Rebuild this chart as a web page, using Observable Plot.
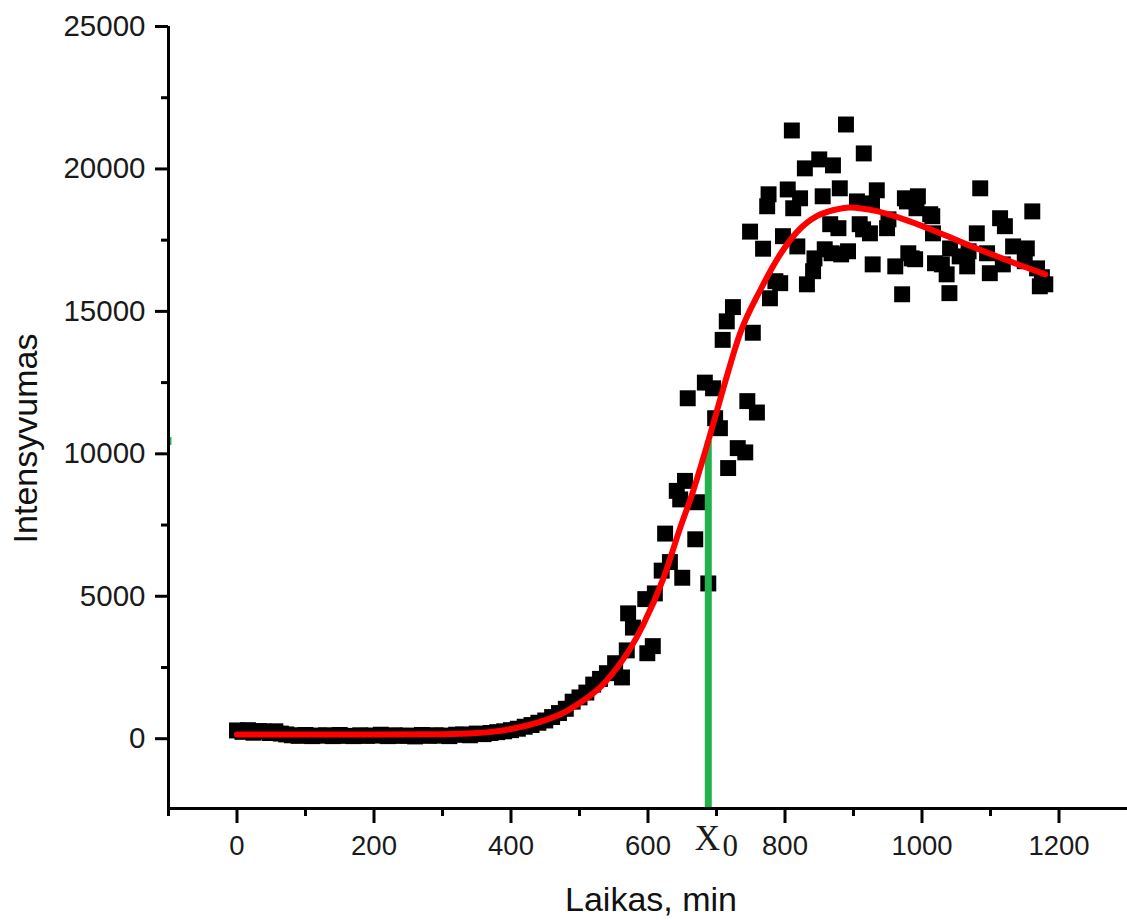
<!DOCTYPE html>
<html>
<head>
<meta charset="utf-8">
<script src="https://cdn.jsdelivr.net/npm/d3@7"></script>
<script src="https://cdn.jsdelivr.net/npm/@observablehq/plot@0.6"></script>
<style>
  body { margin: 0; background: #fff; }
  #chart { width: 1127px; height: 920px; }
</style>
</head>
<body>
<div id="chart"></div>
<script>
// Measured points: time (min) and intensity
const timeMin = [0,8,16,24,32,40,48,56,64,72,80,90,100,110,120,130,140,150,160,170,180,190,200,210,220,230,240,250,260,270,280,290,300,310,320,330,340,350,360,370,380,390,400,410,420,430,440,450,460,470,480,490,500,510,520,530,540,552,562,569,571,578,596,599,607,610,620,625,632,642,647,650,654,658,669,672,683,688,695,698,705,709,715,717,724,731,742,745,749,753,759,768,774,776,778,786,793,797,804,810,812,818,822,829,832,841,843,850,855,858,866,868,870,878,880,882,889,892,905,909,914,915,924,927,928,934,949,951,961,971,975,978,980,985,990,992,994,1012,1015,1016,1019,1029,1036,1040,1041,1055,1066,1068,1080,1085,1095,1099,1114,1118,1121,1133,1150,1153,1161,1168,1172,1175,1180];
const intensity = [290,240,300,210,270,250,200,260,180,150,120,100,130,90,110,120,90,130,100,90,120,100,110,140,90,120,100,110,80,130,100,120,110,90,140,150,120,180,160,200,230,260,300,350,420,480,560,640,760,900,1050,1300,1450,1620,1900,2100,2300,2650,2150,3100,4400,3900,4900,3000,3250,5100,5900,7200,6200,8700,8400,5650,9050,11950,7000,8300,12500,5450,12300,11250,10900,14000,14650,9500,15150,10200,10050,11850,17800,14250,11450,17200,18690,19110,15460,16060,15990,17640,19280,21350,18620,17280,18970,20020,15950,16410,16860,20335,19040,17180,18060,17040,20125,17920,19320,17000,21560,17110,18860,18060,17880,20545,17740,18790,16650,19250,17920,18230,16580,15600,18970,18860,17040,16860,16830,18620,19040,18410,18340,17740,16690,16650,16300,15640,17210,16930,16580,17110,17740,19320,17040,16340,18270,16650,17990,17280,16760,17210,18510,16510,15880,16200,15950];

// Fitted curve
const fitTime  = [0,100,200,300,350,400,450,480,500,530,555,575,593,622,647,666,688,710,734,764,793,818,847,870,895,934,982,1031,1080,1128,1180];
const fitValue = [150,150,150,160,200,340,650,950,1250,1800,2500,3200,4000,5600,7400,8700,10450,12300,14200,15750,17000,17800,18350,18550,18650,18520,18160,17700,17210,16760,16300];

// x0 marker
const x0Time = 688;
const x0Value = 10450;

// Axes
const xDomain = [-100, 1300];
const yDomain = [-2450, 25000];
const xTicks = [0, 200, 400, 600, 800, 1000, 1200];
const xMinorTicks = [-100, 100, 300, 500, 700, 900, 1100];
const yTicks = [0, 5000, 10000, 15000, 20000, 25000];
const yMinorTicks = [2500, 7500, 12500, 17500, 22500];
const xTitle = "Laikas, min";
const yTitle = "Intensyvumas";

const points = timeMin.map((t, i) => ({t, v: intensity[i]}));
const fit = fitTime.map((t, i) => ({t, v: fitValue[i]}));
const marker = [{t: x0Time, v: x0Value}];

const font = "Liberation Sans, Arial, sans-serif";
const serif = "Liberation Serif, Times New Roman, serif";
const green = "#22b14c";

const chart = Plot.plot({
  width: 1127,
  height: 920,
  marginLeft: 168,
  marginRight: 0,
  marginTop: 26,
  marginBottom: 112,
  style: {fontFamily: font, background: "#fff", overflow: "visible"},
  x: {domain: xDomain, label: null},
  y: {domain: yDomain, label: null},
  marks: [
    Plot.dot(points, {x: "t", y: "v", symbol: "square", r: 9, fill: "black", stroke: "none"}),
    Plot.ruleX(marker, {x: "t", y1: yDomain[0], y2: "v", stroke: green, strokeWidth: 7}),
    Plot.ruleY(marker, {y: "v", x1: xDomain[0], x2: -95, stroke: green, strokeWidth: 8}),
    Plot.line(fit, {x: "t", y: "v", stroke: "#ff0000", strokeWidth: 6, curve: "monotone-x"}),
    Plot.ruleX([xDomain[0]], {stroke: "black", strokeWidth: 3}),
    Plot.ruleY([yDomain[0]], {stroke: "black", strokeWidth: 3}),
    Plot.axisY(yTicks, {tickSize: 13, tickPadding: 10, fontSize: 29.5, tickFormat: d => String(d), strokeWidth: 3, stroke: "black", fill: "#1a1a1a", label: null}),
    Plot.axisY(yMinorTicks, {tickSize: 7, tickFormat: () => "", strokeWidth: 3, stroke: "black", label: null}),
    Plot.axisX(xTicks, {tickSize: 15, tickPadding: 12, fontSize: 27.5, tickFormat: d => String(d), strokeWidth: 3, stroke: "black", fill: "#1a1a1a", label: null}),
    Plot.axisX(xMinorTicks, {tickSize: 8, tickFormat: () => "", strokeWidth: 3, stroke: "black", label: null}),
    Plot.text(marker, {x: "t", frameAnchor: "bottom", text: () => "X", fontFamily: serif, fontSize: 35, lineAnchor: "bottom", textAnchor: "middle", dx: -1, dy: 41, fill: "#1a1a1a"}),
    Plot.text(marker, {x: "t", frameAnchor: "bottom", text: () => "0", fontFamily: serif, fontSize: 31, lineAnchor: "bottom", textAnchor: "middle", dx: 22, dy: 47, fill: "#1a1a1a"}),
    Plot.text([xTitle], {frameAnchor: "bottom", text: d => d, fontSize: 34, lineAnchor: "bottom", textAnchor: "middle", dx: 3, dy: 102, fill: "#111"}),
    Plot.text([yTitle], {frameAnchor: "left", text: d => d, fontSize: 34, rotate: -90, lineAnchor: "middle", textAnchor: "middle", dx: -142, dy: 21, fill: "#111"})
  ]
});
document.getElementById("chart").appendChild(chart);
</script>
</body>
</html>
